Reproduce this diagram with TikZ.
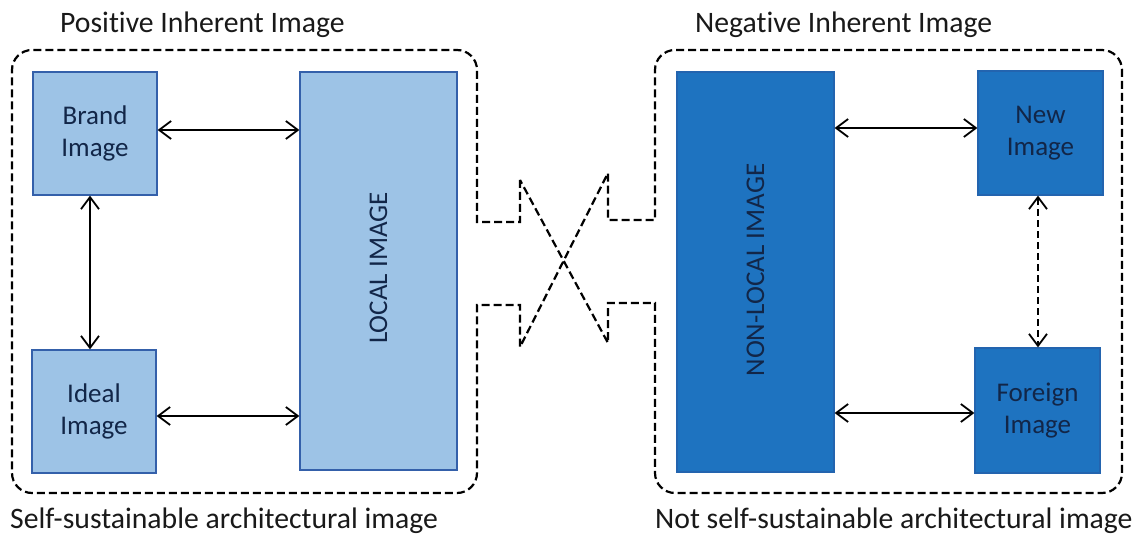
\documentclass[tikz,border=0pt]{standalone}
\usepackage{fontspec}
\setmainfont{Carlito}[Ligatures=NoCommon, RawFeature={-calt;-clig}]
\usetikzlibrary{arrows.meta}
\definecolor{lightfill}{RGB}{157,195,230}
\definecolor{lightdraw}{RGB}{52,96,170}
\definecolor{darkfill}{RGB}{30,115,192}
\definecolor{darkdraw}{RGB}{35,100,175}
\definecolor{boxtext}{RGB}{18,38,72}
\definecolor{captext}{RGB}{25,25,25}
\tikzset{
  boxfont/.style={font=\fontsize{27}{32}\selectfont},
  lbox/.style={rectangle, draw=lightdraw, fill=lightfill, line width=1.3pt, inner sep=0pt, align=center, text=boxtext, boxfont},
  dbox/.style={rectangle, draw=darkdraw, fill=darkfill, line width=1.3pt, inner sep=0pt, align=center, text=boxtext, boxfont},
  vtext/.style={rotate=90, inner sep=0pt, text=boxtext, boxfont},
  biarrow/.style={line width=1.8pt, {Straight Barb[length=12pt,width=18pt]}-{Straight Barb[length=12pt,width=18pt]}},
  outline/.style={line width=2.2pt, dash pattern=on 8pt off 4pt},
  caption/.style={anchor=base west, inner sep=0pt, text=captext, font=\fontsize{29.7}{34}\selectfont}
}
\begin{document}
\begin{tikzpicture}[x=1pt,y=-1pt]
\useasboundingbox[fill=white] (0,0) rectangle (1136,537);

% dashed outline
\draw[outline] (520,180) -- (520,222) -- (477,222) -- (477,110) [rounded corners=20] -- (477,50) -- (12,50) -- (12,493) -- (477,493) -- (477,440) [sharp corners] -- (477,305) -- (520,305) -- (520,347) -- (608,173) -- (608,220) -- (655,220) -- (655,110) [rounded corners=20] -- (655,50) -- (1122,50) -- (1122,493) -- (655,493) -- (655,440) [sharp corners] -- (655,303) -- (608,303) -- (608,343) -- cycle;

% boxes
\node[lbox, minimum width=124pt, minimum height=123pt] (brand) at (95,133.5) {Brand\\Image};
\node[lbox, minimum width=124pt, minimum height=123pt] (ideal) at (94,411.5) {Ideal\\Image};
\node[lbox, minimum width=157pt, minimum height=398pt] (local) at (378.5,271) {};
\node[vtext] (localtxt) at ([yshift=3pt]local.center) {LOCAL IMAGE};
\node[dbox, minimum width=157pt, minimum height=400pt] (nonlocal) at (755.5,272) {};
\node[vtext] (nonlocaltxt) at ([yshift=2pt]nonlocal.center) {NON-LOCAL IMAGE};
\node[dbox, minimum width=125pt, minimum height=124pt] (new) at (1040.5,133) {New\\Image};
\node[dbox, minimum width=125pt, minimum height=125pt] (foreign) at (1037.5,410.5) {Foreign\\Image};

% connectors
\draw[biarrow] ([yshift=3.5pt]brand.east) -- ([yshift=3.5pt]brand.east -| local.west);
\draw[biarrow] ([yshift=-4.5pt]ideal.east) -- ([yshift=-4.5pt]ideal.east -| local.west);
\draw[biarrow] ([xshift=-5pt]brand.south) -- ([xshift=-5pt]brand.south |- ideal.north);
\draw[biarrow] ([yshift=5pt]new.west) -- ([yshift=5pt]new.west -| nonlocal.east);
\draw[biarrow] ([yshift=-2.5pt]foreign.west) -- ([yshift=-2.5pt]foreign.west -| nonlocal.east);
\draw[biarrow, dash pattern=on 7pt off 4pt] ([xshift=-2.5pt]new.south) -- ([xshift=-2.5pt]new.south |- foreign.north);

% captions
\node[caption] (postitle) at (60,33) {Positive Inherent Image};
\node[caption] (negtitle) at (695,33) {Negative Inherent Image};
\node[caption] (selfcap) at (10,528.5) {Self-sustainable architectural image};
\node[caption] (notcap) at (655,528.5) {Not self-sustainable architectural image};
\end{tikzpicture}
\end{document}
